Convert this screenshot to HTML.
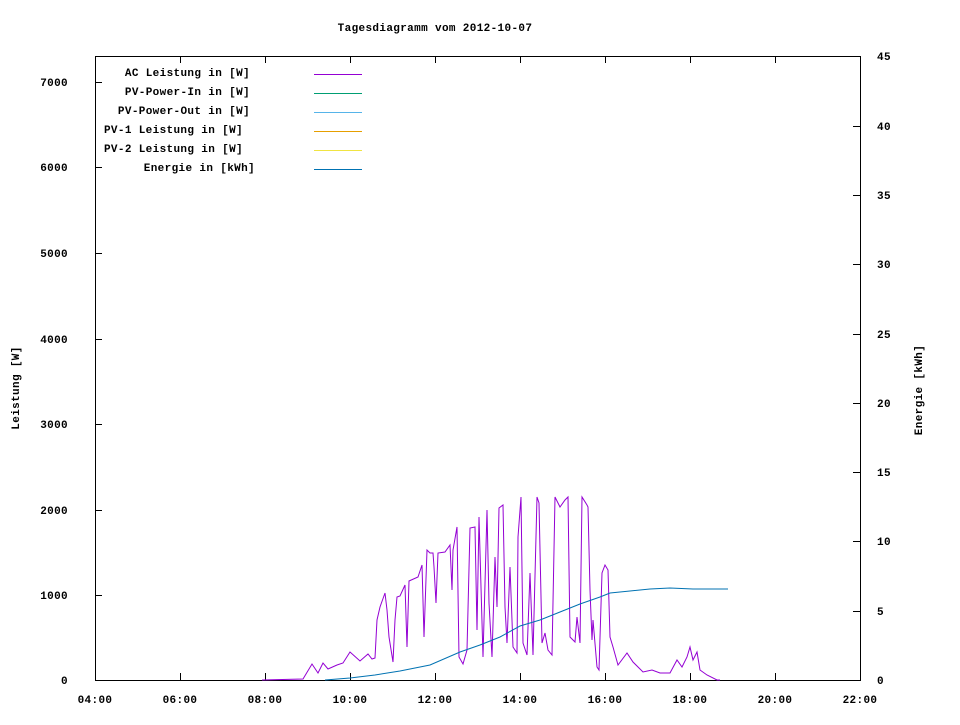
<!DOCTYPE html>
<html><head><meta charset="utf-8"><style>
html,body{margin:0;padding:0;background:#fff}
svg text{font-family:"Liberation Mono",monospace;font-size:11px;font-weight:bold;fill:#000;letter-spacing:0.35px}
</style></head><body>
<svg width="960" height="720" xmlns="http://www.w3.org/2000/svg">
<rect width="960" height="720" fill="#fff"/>
<text x="435" y="31" text-anchor="middle">Tagesdiagramm vom 2012-10-07</text>
<rect x="95.5" y="56.5" width="765" height="624" fill="none" stroke="#000" stroke-width="1"/>
<g stroke="#000" stroke-width="1">
<path d="M95 680.5h7M95 595.5h7M95 510.5h7M95 424.5h7M95 339.5h7M95 253.5h7M95 167.5h7M95 82.5h7"/>
<path d="M860 680.5h-7M860 611.5h-7M860 541.5h-7M860 472.5h-7M860 403.5h-7M860 334.5h-7M860 264.5h-7M860 195.5h-7M860 126.5h-7M860 56.5h-7"/>
<path d="M95.5 680v-7M180.5 680v-7M265.5 680v-7M350.5 680v-7M435.5 680v-7M520.5 680v-7M605.5 680v-7M690.5 680v-7M775.5 680v-7M860.5 680v-7"/>
<path d="M95.5 56v7M180.5 56v7M265.5 56v7M350.5 56v7M435.5 56v7M520.5 56v7M605.5 56v7M690.5 56v7M775.5 56v7M860.5 56v7"/>
</g>
<g text-anchor="end">
<text x="68" y="684">0</text><text x="68" y="599">1000</text><text x="68" y="514">2000</text><text x="68" y="428">3000</text><text x="68" y="343">4000</text><text x="68" y="257">5000</text><text x="68" y="171">6000</text><text x="68" y="86">7000</text>
</g>
<g>
<text x="877" y="684">0</text><text x="877" y="615">5</text><text x="877" y="545">10</text><text x="877" y="476">15</text><text x="877" y="407">20</text><text x="877" y="338">25</text><text x="877" y="268">30</text><text x="877" y="199">35</text><text x="877" y="130">40</text><text x="877" y="60">45</text>
</g>
<g text-anchor="middle">
<text x="95" y="703">04:00</text><text x="180" y="703">06:00</text><text x="265" y="703">08:00</text><text x="350" y="703">10:00</text><text x="435" y="703">12:00</text><text x="520" y="703">14:00</text><text x="605" y="703">16:00</text><text x="690" y="703">18:00</text><text x="775" y="703">20:00</text><text x="860" y="703">22:00</text>
</g>
<text transform="translate(19,388) rotate(-90)" text-anchor="middle">Leistung [W]</text>
<text transform="translate(922,390) rotate(-90)" text-anchor="middle">Energie [kWh]</text>
<g text-anchor="end">
<text x="250" y="76">AC Leistung in [W]</text>
<text x="250" y="95">PV-Power-In in [W]</text>
<text x="250" y="114">PV-Power-Out in [W]</text>
<text x="243" y="133">PV-1 Leistung in [W]</text>
<text x="243" y="152">PV-2 Leistung in [W]</text>
<text x="255" y="171">Energie in [kWh]</text>
</g>
<g stroke-width="1">
<path d="M314 74.5h48" stroke="#9400d3"/>
<path d="M314 93.5h48" stroke="#009e73"/>
<path d="M314 112.5h48" stroke="#56b4e9"/>
<path d="M314 131.5h48" stroke="#e69f00"/>
<path d="M314 150.5h48" stroke="#f0e442"/>
<path d="M314 169.5h48" stroke="#0072b2"/>
</g>
<polyline fill="none" stroke="#9400d3" stroke-width="1" points="262,680 303,679 312,664 318,673 323,663 328,669 337,665 343,663 350,652 360,661 368,654 372,659 375,658 377,620 380,607 385,593 387,610 389,637 393,662 395,620 397,597 400,596 405,585 407,647 409,581 418,577 422,565 424,637 427,550 430,553 433,553 434,567 436,603 438,553 445,552 450,545 452,590 453,550 457,527 459,657 463,664 467,650 470,528 475,527 477,630 479,517 483,657 487,510 489,603 492,657 495,557 497,607 499,508 503,505 505,607 507,643 510,567 513,647 517,653 518,537 521,497 523,643 527,655 530,573 533,655 537,497 539,503 542,643 545,633 548,650 552,655 555,497 560,507 565,500 568,497 570,637 575,642 577,617 580,643 582,497 587,505 588,507 590,590 592,640 593,620 597,667 599,670 602,573 605,565 608,570 610,637 613,647 618,665 627,653 633,662 643,672 652,670 660,673 670,673 677,660 682,667 687,657 690,647 693,660 697,652 700,670 707,675 717,680 720,680"/>
<polyline fill="none" stroke="#0072b2" stroke-width="1" points="325,680 350,678 375,675 400,671 430,665 460,652 480,645 500,637 520,626 540,620 560,612 580,604 600,597 610,593 630,591 650,589 670,588 693,589 728,589"/>
</svg>
</body></html>
